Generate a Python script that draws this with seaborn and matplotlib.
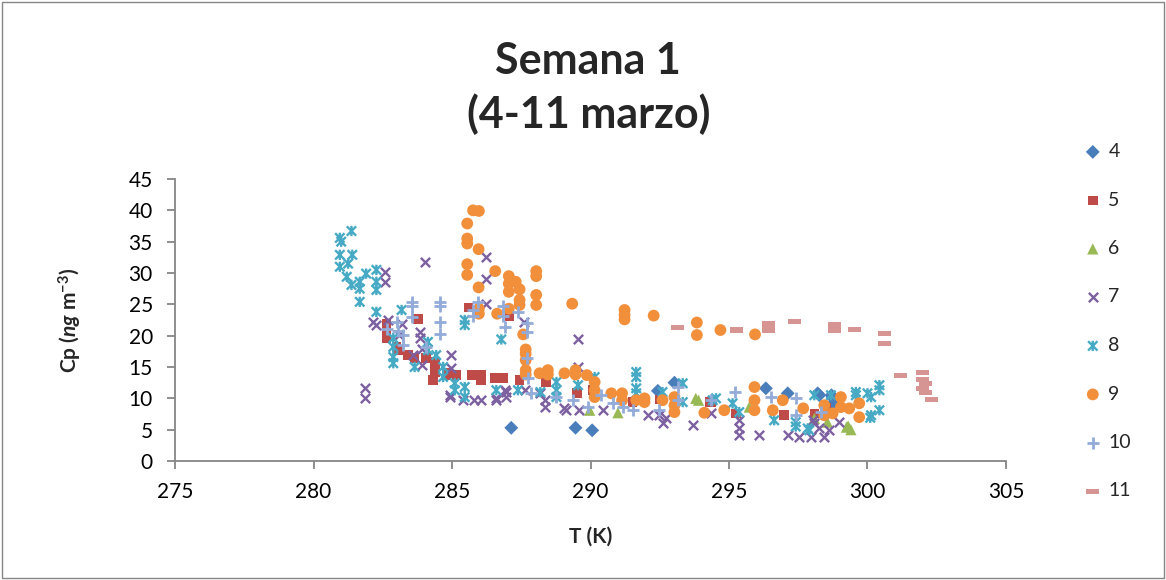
import numpy as np
import pandas as pd
import matplotlib
matplotlib.use("Agg")
import matplotlib.pyplot as plt
from matplotlib.path import Path
from matplotlib.patches import Rectangle
import seaborn as sns

# ---------------- data ----------------
t4 = [287.14, 289.46, 290.06, 292.43, 293.03, 296.33, 297.12, 298.2, 298.26, 298.74, 298.74, 298.7]
c4 = [5.3, 5.3, 4.9, 11.2, 12.5, 11.6, 10.8, 10.8, 10.5, 10.2, 9.2, 10.5]

t5 = [282.63, 282.63, 282.63, 283.0, 283.05, 283.42, 283.78, 283.65, 284.07, 284.38, 284.38, 284.32,
      284.8, 284.86, 285.16, 285.6, 285.7, 286.05, 286.05, 286.54, 286.84, 287.08, 287.44, 288.4,
      289.52, 290.08, 291.52, 292.49, 294.3, 294.35, 295.25, 296.99, 298.08, 298.5]
c5 = [21.9, 20.8, 19.6, 18.2, 17.7, 16.9, 22.7, 16.4, 16.4, 15.8, 14.2, 12.9,
      13.7, 14.0, 13.7, 24.5, 13.7, 13.7, 12.9, 13.2, 13.2, 23.1, 12.9, 12.5,
      10.9, 11.3, 9.4, 9.8, 9.4, 9.4, 7.6, 7.3, 7.6, 8.5]

t6 = [289.97, 290.99, 293.8, 293.9, 295.73, 298.08, 298.55, 299.24, 299.4, 299.3]
c6 = [8.1, 7.7, 10.0, 9.7, 8.6, 6.8, 6.2, 5.4, 5.0, 5.6]

t7 = [281.85, 281.85, 282.15, 282.27, 282.57, 282.57, 282.7, 283.18, 283.1, 283.83, 283.83, 283.6,
      283.9, 283.9, 284.02, 284.98, 284.98, 284.92, 284.92, 285.4, 285.8, 286.05, 286.24, 286.24,
      286.24, 286.6, 286.6, 286.9, 286.96, 286.96, 287.59, 287.62, 288.16, 288.35, 288.35, 289.06,
      289.13, 289.55, 289.55, 289.6, 290.44, 292.07, 292.49, 292.6, 292.73, 293.69, 294.35, 295.37,
      295.37, 295.37, 296.1, 297.12, 297.54, 297.95, 298.44, 298.08, 298.62, 298.98, 298.26, 298.02]
c7 = [11.6, 10.0, 22.2, 21.7, 30.2, 28.6, 22.5, 21.9, 20.1, 20.6, 19.6, 16.9,
      17.9, 15.3, 31.8, 16.9, 14.8, 10.2, 10.5, 9.7, 9.7, 9.7, 32.6, 29.1,
      25.1, 9.8, 10.0, 11.3, 11.0, 10.2, 22.2, 11.3, 10.8, 9.7, 8.6, 8.4,
      8.2, 19.4, 15.0, 8.1, 8.2, 7.3, 7.3, 6.0, 6.8, 5.7, 7.7, 6.5,
      5.2, 4.1, 4.1, 4.1, 3.8, 3.8, 3.8, 6.0, 4.9, 6.2, 5.2, 6.5]

t8 = [280.95, 281.0, 281.37, 280.95, 281.4, 280.95, 281.25, 281.2, 281.37, 281.67, 281.67, 281.67,
      281.9, 282.27, 282.27, 282.27, 282.27, 283.18, 282.88, 282.88, 282.88, 282.88, 283.65, 284.13,
      284.13, 284.43, 284.68, 284.68, 285.1, 285.46, 285.46, 285.46, 285.46, 285.1, 286.78, 286.6,
      287.38, 288.19, 288.77, 288.77, 288.77, 289.55, 290.15, 291.65, 291.65, 291.65, 291.65, 292.6,
      293.33, 293.33, 294.41, 294.53, 295.13, 295.37, 296.63, 297.41, 297.41, 297.84, 297.9, 298.08,
      298.68, 299.58, 299.58, 300.0, 300.13, 300.43, 300.43, 300.13, 300.43, 300.1]
c8 = [35.6, 35.0, 36.7, 32.9, 32.9, 31.0, 31.5, 29.4, 28.1, 28.6, 27.5, 25.4,
      29.9, 30.5, 28.6, 27.3, 23.8, 24.1, 19.6, 18.2, 16.6, 15.6, 15.0, 19.0,
      17.7, 16.9, 15.0, 13.4, 12.4, 11.8, 10.2, 22.5, 21.7, 11.3, 19.4, 11.3,
      11.3, 11.0, 12.6, 11.3, 10.2, 12.1, 13.4, 14.2, 13.4, 11.6, 10.8, 11.0,
      12.4, 9.4, 9.7, 10.0, 9.2, 7.8, 6.5, 6.2, 5.5, 5.2, 4.9, 10.5,
      10.5, 11.0, 10.5, 10.8, 10.2, 12.1, 11.3, 7.3, 8.1, 6.9]

t9 = [285.76, 285.97, 285.55, 285.55, 285.55, 285.96, 285.55, 285.55, 285.96, 286.56, 287.05, 287.05,
      287.05, 287.3, 287.44, 287.44, 287.44, 287.05, 286.63, 285.97, 285.97, 288.04, 288.04, 288.04,
      288.04, 289.34, 287.57, 287.66, 287.66, 287.66, 287.66, 287.66, 288.16, 288.46, 288.46, 289.06,
      289.46, 289.46, 289.87, 290.15, 290.15, 290.15, 290.75, 291.14, 291.14, 291.23, 291.23, 291.23,
      291.65, 291.95, 291.95, 292.28, 292.6, 293.03, 293.03, 293.03, 293.84, 293.84, 294.11, 294.69,
      294.83, 295.94, 295.92, 295.92, 295.92, 296.58, 296.94, 297.68, 298.44, 298.44, 298.74, 299.04,
      299.04, 299.34, 299.7, 299.7]
c9 = [40.0, 39.9, 37.9, 35.5, 34.7, 33.8, 31.4, 29.7, 27.7, 30.3, 29.5, 28.3,
      27.0, 28.6, 27.4, 25.7, 24.9, 24.3, 23.5, 24.3, 23.5, 30.3, 29.5, 26.5,
      24.9, 25.1, 20.2, 17.8, 17.1, 16.1, 14.5, 13.8, 14.0, 14.5, 13.8, 14.0,
      14.5, 13.8, 13.7, 12.6, 11.3, 10.2, 10.8, 10.8, 9.7, 24.1, 23.3, 22.6,
      9.7, 10.0, 9.4, 23.2, 9.7, 10.2, 8.9, 7.8, 22.1, 20.1, 7.7, 20.9,
      8.1, 20.2, 11.8, 9.7, 8.1, 8.1, 9.7, 8.4, 8.9, 7.3, 7.6, 10.2,
      8.6, 8.4, 9.2, 7.0]

t10 = [283.57, 283.57, 283.57, 284.56, 284.56, 284.56, 284.56, 282.66, 283.0, 283.05, 283.23, 283.23,
       284.07, 285.94, 285.76, 285.76, 286.84, 286.84, 286.9, 287.38, 287.7, 287.7, 287.7, 287.73,
       287.85, 288.77, 289.37, 289.9, 290.39, 290.8, 291.17, 291.53, 292.49, 293.16, 293.16, 294.35,
       295.23, 296.52, 297.41, 297.41, 298.32]
c10 = [25.4, 24.8, 23.0, 25.4, 24.8, 22.2, 20.3, 21.1, 22.2, 20.8, 20.1, 18.5,
       18.2, 25.4, 24.1, 23.2, 24.7, 23.1, 21.4, 23.8, 22.0, 20.6, 16.4, 13.2,
       10.8, 10.2, 9.7, 8.6, 10.5, 9.2, 8.6, 8.1, 8.1, 11.8, 9.7, 9.7,
       11.0, 10.2, 10.0, 7.3, 7.8]

t11 = [293.13, 295.27, 296.42, 296.42, 296.42, 297.37, 298.81, 298.81, 298.81, 299.52, 300.6, 300.6,
       301.2, 302.0, 302.0, 302.0, 302.1, 302.1, 302.3]
c11 = [21.3, 20.9, 21.9, 21.4, 20.9, 22.3, 21.8, 21.4, 20.9, 21.0, 20.4, 18.8,
       13.7, 14.1, 13.0, 11.6, 12.4, 10.9, 9.8]

labels = ["4", "5", "6", "7", "8", "9", "10", "11"]
xs = [t4, t5, t6, t7, t8, t9, t10, t11]
ys = [c4, c5, c6, c7, c8, c9, c10, c11]

title_lines = ["Semana 1", "(4-11 marzo)"]
x_ticks = [275, 280, 285, 290, 295, 300, 305]
y_ticks = [0, 5, 10, 15, 20, 25, 30, 35, 40, 45]

# ---------------- style ----------------
sns.set_theme(style="white")
plt.rcParams["font.family"] = ["Lato", "DejaVu Sans"]
plt.rcParams["mathtext.fontset"] = "custom"
plt.rcParams["mathtext.rm"] = "Lato:bold"
plt.rcParams["mathtext.it"] = "Lato:italic:bold"
plt.rcParams["mathtext.bf"] = "Lato:bold"

star = Path([(-1, -1), (1, 1), (-1, 1), (1, -1), (0, -1.1), (0, 1.1)],
            [Path.MOVETO, Path.LINETO, Path.MOVETO, Path.LINETO, Path.MOVETO, Path.LINETO])
dash = [(-1, -0.4), (1, -0.4), (1, 0.4), (-1, 0.4), (-1, -0.4)]

# kind: "fill" = filled marker, "line" = unfilled builtin, "path" = custom line path
styles = [
    dict(marker="D", color="#4A7EBB", s=50, lw=0, kind="fill"),
    dict(marker="s", color="#BE4B48", s=48, lw=0, kind="fill"),
    dict(marker="^", color="#98B954", s=65, lw=0, kind="fill"),
    dict(marker="x", color="#7D60A0", s=45, lw=1.7, kind="line"),
    dict(marker=star, color="#46AAC5", s=55, lw=1.7, kind="path"),
    dict(marker="o", color="#F18F3B", s=72, lw=0, kind="fill"),
    dict(marker="+", color="#93ABD9", s=75, lw=2.0, kind="line"),
    dict(marker=dash, color="#D69493", s=85, lw=0, kind="fill"),
]

fig = plt.figure(figsize=(11.66, 5.8), dpi=100)
ax = fig.add_axes([175 / 1166, (580 - 461) / 580, (1006 - 175) / 1166, (461 - 179) / 580])

handles = []
for lab, x, y, st in zip(labels, xs, ys, styles):
    df = pd.DataFrame({"T": x, "Cp": y})
    kw = dict(marker=st["marker"], s=st["s"], linewidth=st["lw"], ax=ax, clip_on=False, zorder=3)
    if st["kind"] == "line":
        kw.update(color=st["color"])
    elif st["kind"] == "path":
        kw.update(color=st["color"], edgecolor=st["color"], facecolor="none")
    else:
        kw.update(color=st["color"], edgecolor="none")
    sns.scatterplot(data=df, x="T", y="Cp", **kw)
    handles.append(ax.collections[-1])

ax.set_xlim(275, 305)
ax.set_ylim(0, 45)
ax.set_xticks(x_ticks)
ax.set_yticks(y_ticks)
for sp in ["top", "right"]:
    ax.spines[sp].set_visible(False)
for sp in ["left", "bottom"]:
    ax.spines[sp].set_color("#868686")
    ax.spines[sp].set_linewidth(1.3)
ax.tick_params(axis="both", which="major", direction="out", length=6, width=1.3,
               color="#868686", labelsize=15, labelcolor="black")
ax.tick_params(axis="x", pad=9, bottom=True)
ax.tick_params(axis="y", pad=10, left=True)

ax.set_xlabel("T (K)", fontsize=15, fontweight="bold", labelpad=18)
ax.set_ylabel(r"Cp ($\mathit{ng}$ m$^{\mathbf{-3}}$)", fontsize=15, fontweight="bold", labelpad=32)

fig.text(0.504, 1 - 74 / 580, title_lines[0], ha="center", va="baseline",
         fontsize=31, fontweight="bold")
fig.text(0.505, 1 - 128 / 580, title_lines[1], ha="center", va="baseline",
         fontsize=31, fontweight="bold")

leg = fig.legend(handles, labels, loc="upper left", bbox_to_anchor=(1085 / 1166, 1 - 143 / 580),
                 frameon=False, fontsize=14, handlelength=0.8, handletextpad=0.4,
                 labelspacing=1.62, borderaxespad=0, borderpad=0, scatterpoints=1)

fig.patches.append(Rectangle((2 / 1166, 2 / 580), 1 - 4 / 1166, 1 - 4 / 580, transform=fig.transFigure,
                             fill=False, edgecolor="#868686", linewidth=1.0))

fig.savefig("out.png", dpi=100)
